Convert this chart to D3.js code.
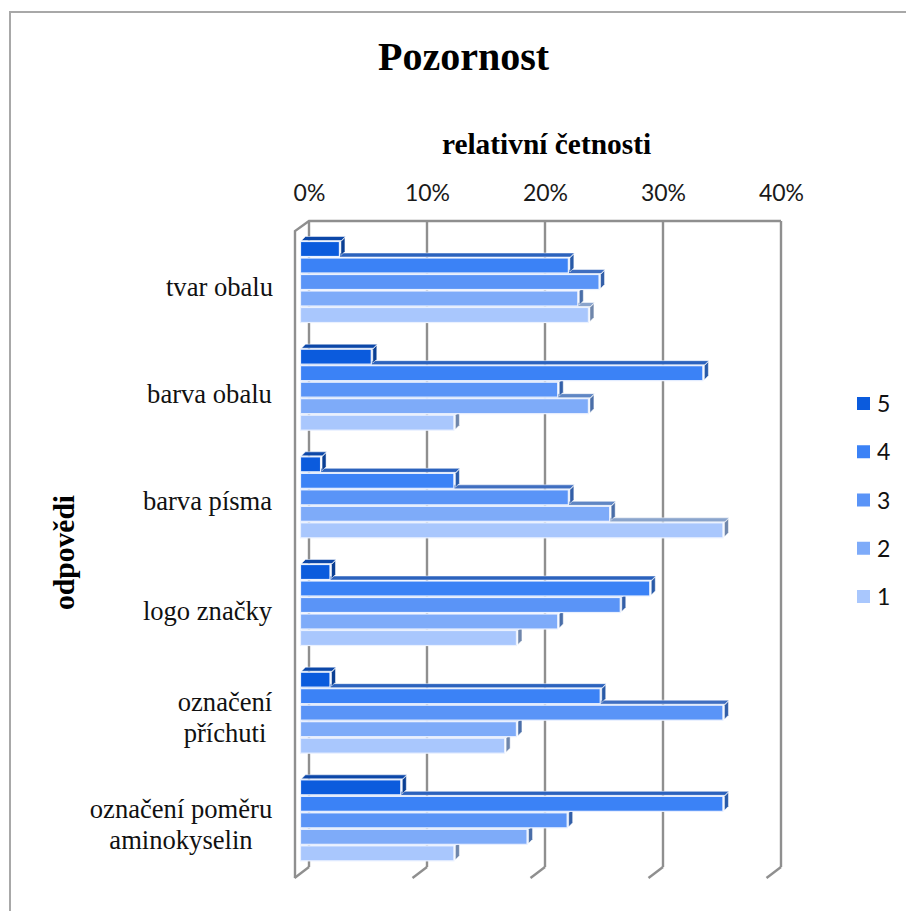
<!DOCTYPE html>
<html><head><meta charset="utf-8">
<script src="https://cdn.jsdelivr.net/npm/d3@7/dist/d3.min.js"></script>
<style>html,body{margin:0;padding:0;background:#fff}svg{display:block}</style>
</head><body><svg id="c" width="906" height="911"></svg>
<script>
const categories = ["tvar obalu","barva obalu","barva písma","logo značky","označení příchuti","označení poměru aminokyselin"];
const categoryLines = [["tvar obalu"],["barva obalu"],["barva písma"],["logo značky"],["označení","příchuti"],["označení poměru","aminokyselin"]];
const seriesNames = ["5","4","3","2","1"];
const s5 = [3.3,6.0,1.7,2.5,2.5,8.5];
const s4 = [22.7,34.1,13.0,29.6,25.4,35.8];
const s3 = [25.3,21.8,22.7,27.1,35.8,22.6];
const s2 = [23.5,24.4,26.2,21.8,18.3,19.2];
const s1 = [24.4,13.0,35.8,18.3,17.3,13.0];
const seriesValues = [s5,s4,s3,s2,s1];
const ticks = [0,10,20,30,40];
const colors = ["#0b5bdd","#3b82f6","#5a94f7","#7eabf9","#a9c7fd"];
const sideColors = ["#0a3f94","#285aa8","#335fa8","#4a6ea8","#6f86ab"];
const topColors = ["#0c47a8","#2b62bd","#3f6ec0","#5f86c4","#8aa4cc"];

const svg = d3.select("#c");
const GRID = "#8f8f8f";
svg.append("path").attr("d","M10,911V12H906").attr("fill","none").attr("stroke","#a8a8a8").attr("stroke-width",2);

const x = d3.scaleLinear().domain([0,40]).range([309,781]);
const y = d3.scaleBand().domain(categories).range([231,877]);
const yS = d3.scaleBand().domain(seriesNames).range([11,93.5]);
const barH = yS.bandwidth()-1.5;
const frontDx = -8.5, depth = 5;

// back wall + floor
const wallTop=221, wallBottom=867, floorY=878;
const grid = svg.append("g").attr("fill","none").attr("stroke",GRID).attr("stroke-width",2.4);
grid.selectAll("line.g").data(ticks).join("line").attr("class","g")
  .attr("x1",d=>x(d)).attr("x2",d=>x(d)).attr("y1",wallTop).attr("y2",wallBottom);
grid.selectAll("line.f").data(ticks).join("line").attr("class","f")
  .attr("x1",d=>x(d)).attr("x2",d=>x(d)-14.5).attr("y1",wallBottom).attr("y2",floorY);
grid.append("path").attr("d",`M${x(40)},${wallTop}H${x(0)}L${x(0)-14},${wallTop+10}V${floorY}`);

// bars: lowest series first so upper bars overlap
seriesNames.map((n,i)=>i).reverse().forEach(si=>{
  const g = svg.append("g");
  const yy = c=>y(c)+yS(seriesNames[si])-.5;
  const xx = v=>x(v)+frontDx;
  const data = categories.map((c,i)=>({c,v:seriesValues[si][i]}));
  g.selectAll("path.t").data(data).join("path").attr("class","t").attr("fill",topColors[si]).attr("stroke","#fff").attr("stroke-width",.5)
    .attr("d",d=>`M${xx(0)+1},${yy(d.c)-1}l${depth-1},${-depth+1}H${xx(d.v)+depth+1}l${-depth+1},${depth-1}Z`);
  g.selectAll("path.s").data(data).join("path").attr("class","s").attr("fill",sideColors[si]).attr("stroke","#fff").attr("stroke-width",.5)
    .attr("d",d=>`M${xx(d.v)+1.5},${yy(d.c)}l${depth-1},${-depth+1}v${barH-1}l${-depth+1},${depth-1}Z`);
  g.selectAll("rect").data(data).join("rect").attr("fill",colors[si]).attr("stroke","#eaf1ff").attr("stroke-width",1.2)
    .attr("x",xx(0)).attr("y",d=>yy(d.c)).attr("width",d=>xx(d.v)-xx(0)).attr("height",barH);
});

// tick labels through the axis
const axis = d3.axisTop(x).tickValues(ticks).tickFormat(d=>d+"%").tickSize(0).tickPadding(0);
const ag = svg.append("g").attr("transform","translate(0,200.5)").call(axis);
ag.select(".domain").remove();
ag.selectAll("text").attr("font-family","Lato").attr("font-size",23).attr("fill","#1a1a1a");

// category labels
const serif = "'Liberation Serif'";
const cat = svg.append("g").attr("font-family",serif).attr("font-size",26.6).attr("fill","#111").attr("text-anchor","middle");
const labelCx = [[219.5],[209.5],[207.5],[207.5],[225,225],[181,181]];
const labelY = [296,403,510,620,711,817.5];
categoryLines.forEach((ls,i)=>{
  ls.forEach((t,j)=>cat.append("text").attr("x",labelCx[i][j]).attr("y",labelY[i]+j*31).text(t));
});

svg.append("text").attr("x",463.5).attr("y",70).attr("text-anchor","middle").attr("font-family",serif).attr("font-weight","bold").attr("font-size",40).attr("fill","#000").text("Pozornost");
svg.append("text").attr("x",546.5).attr("y",154).attr("text-anchor","middle").attr("font-family",serif).attr("font-weight","bold").attr("font-size",29.4).attr("fill","#000").text("relativní četnosti");
svg.append("text").attr("transform","translate(74,552.5) rotate(-90)").attr("text-anchor","middle").attr("font-family",serif).attr("font-weight","bold").attr("font-size",29.6).attr("fill","#000").text("odpovědi");

// legend
const ly = d3.scalePoint().domain(seriesNames).range([404,597]);
const lg = svg.append("g");
lg.selectAll("rect").data(seriesNames).join("rect").attr("x",857).attr("y",d=>ly(d)-7).attr("width",13).attr("height",13).attr("fill",(d,i)=>colors[i]);
lg.selectAll("text").data(seriesNames).join("text").attr("x",877).attr("y",d=>ly(d)+8).attr("font-family","Lato").attr("font-size",23).attr("fill","#111").text(d=>d);
</script></body></html>
